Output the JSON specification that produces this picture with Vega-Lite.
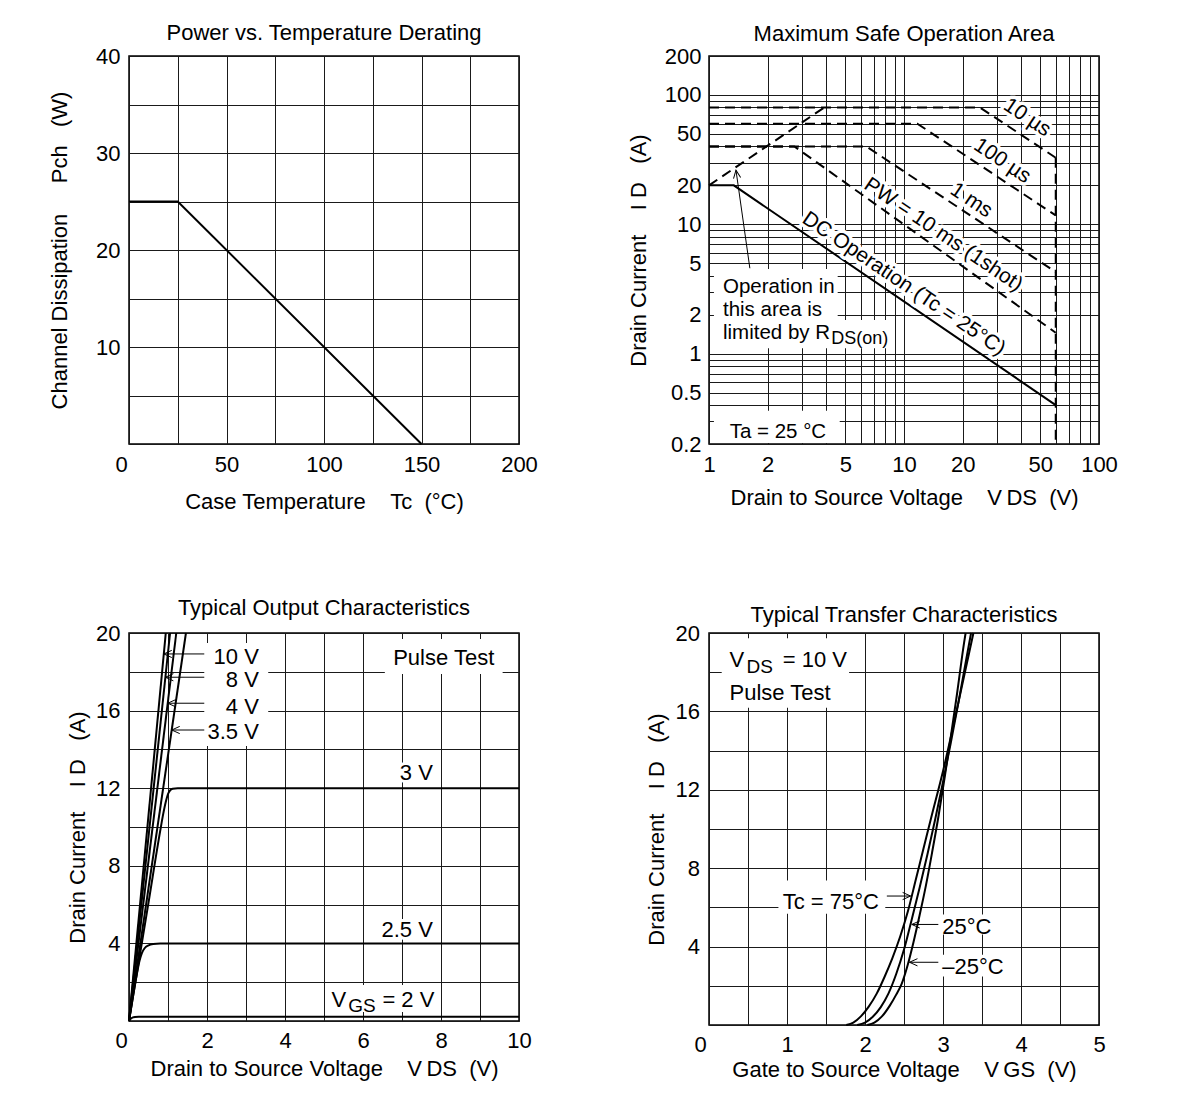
{
  "$schema": "https://vega.github.io/schema/vega-lite/v6.json",
  "background": "white",
  "padding": {"left": 47, "top": 21, "right": 5, "bottom": 5},
  "config": {
    "font": "Liberation Sans",
    "view": {"stroke": "#000", "strokeWidth": 1.5},
    "axis": {"grid": true, "gridColor": "#1a1a1a", "gridWidth": 1, "gridOpacity": 1, "domain": false, "ticks": false, "tickSize": 0,
      "labelFont": "Liberation Sans", "labelFontSize": 22, "labelColor": "#000", "labelFlush": false, "labelOverlap": false,
      "titleFont": "Liberation Sans", "titleFontSize": 22, "titleFontWeight": "normal", "titleColor": "#000"},
    "title": {"font": "Liberation Sans", "fontSize": 22, "fontWeight": "normal", "color": "#000", "anchor": "middle", "frame": "group"},
    "text": {"font": "Liberation Sans", "color": "#000"}
  },
  "datasets": {
    "p1": [{"x": 0, "y": 25}, {"x": 25, "y": 25}, {"x": 150, "y": 0}],
    "p2solid": [{"x": 1, "y": 20}, {"x": 1.34, "y": 20}, {"x": 60, "y": 0.4}],
    "p2dash": [
      {"s": "rds", "x": 1, "y": 20}, {"s": "rds", "x": 3.9, "y": 80},
      {"s": "us10", "x": 1, "y": 80}, {"s": "us10", "x": 24.5, "y": 80}, {"s": "us10", "x": 60, "y": 32.7},
      {"s": "us100", "x": 1, "y": 60}, {"s": "us100", "x": 11.7, "y": 60}, {"s": "us100", "x": 60, "y": 11.7},
      {"s": "ms1", "x": 1, "y": 40}, {"s": "ms1", "x": 6.4, "y": 40}, {"s": "ms1", "x": 60, "y": 4.27},
      {"s": "ms10", "x": 1, "y": 40}, {"s": "ms10", "x": 2.74, "y": 40}, {"s": "ms10", "x": 60, "y": 1.45},
      {"s": "vdss", "x": 60, "y": 32.7}, {"s": "vdss", "x": 60, "y": 0.2}
    ],
    "p2arrow": [{"x": 1.62, "y": 4.57}, {"x": 1.375, "y": 26.2}],
    "p2head": [{"x": 1.375, "y": 26.2}],
    "p2box": [
      {"x": 1.06, "x2": 4.57, "y": 1.82, "y2": 4.5},
      {"x": 1.06, "x2": 8.52, "y": 1.1, "y2": 1.82},
      {"x": 1.06, "x2": 4.68, "y": 0.2035, "y2": 0.362}
    ],
    "p2rot": [
      {"t": "10 µs", "x": 42.8, "y": 66.7},
      {"t": "100 µs", "x": 31.9, "y": 30.8},
      {"t": "1 ms", "x": 22.1, "y": 15.3},
      {"t": "PW = 10 ms (1shot)", "x": 15.9, "y": 8.28},
      {"t": "DC Operation (Tc = 25°C)", "x": 9.97, "y": 3.46}
    ],
    "p2txt": [
      {"t": "Operation in", "x": 1.179, "y": 2.92},
      {"t": "this area is", "x": 1.179, "y": 1.945},
      {"t": "limited by R", "x": 1.179, "y": 1.3},
      {"t": "Ta = 25 °C", "x": 1.276, "y": 0.223}
    ],
    "p2sub": [{"t": "DS(on)", "x": 4.24, "y": 1.186}],
    "p3curves": [
      {"s": "v10", "x": 0, "y": 0}, {"s": "v10", "x": 0.943, "y": 20},
      {"s": "v8", "x": 0, "y": 0}, {"s": "v8", "x": 1.053, "y": 20},
      {"s": "v4", "x": 0, "y": 0}, {"s": "v4", "x": 1.212, "y": 20},
      {"s": "v35", "x": 0, "y": 0}, {"s": "v35", "x": 1.46, "y": 20},
      {"s": "v3", "x": 0, "y": 0}, {"s": "v3", "x": 0.5, "y": 6.1}, {"s": "v3", "x": 0.8, "y": 9.8}, {"s": "v3", "x": 0.88, "y": 10.7}, {"s": "v3", "x": 0.95, "y": 11.35}, {"s": "v3", "x": 1.0, "y": 11.7}, {"s": "v3", "x": 1.05, "y": 11.88}, {"s": "v3", "x": 1.12, "y": 11.97}, {"s": "v3", "x": 1.25, "y": 12}, {"s": "v3", "x": 10, "y": 12},
      {"s": "v25", "x": 0, "y": 0}, {"s": "v25", "x": 0.1, "y": 1.25}, {"s": "v25", "x": 0.2, "y": 2.4}, {"s": "v25", "x": 0.27, "y": 3.1}, {"s": "v25", "x": 0.33, "y": 3.5}, {"s": "v25", "x": 0.4, "y": 3.75}, {"s": "v25", "x": 0.5, "y": 3.9}, {"s": "v25", "x": 0.62, "y": 3.97}, {"s": "v25", "x": 0.8, "y": 4}, {"s": "v25", "x": 10, "y": 4},
      {"s": "v2", "x": 0, "y": 0}, {"s": "v2", "x": 0.05, "y": 0.13}, {"s": "v2", "x": 0.1, "y": 0.19}, {"s": "v2", "x": 0.15, "y": 0.21}, {"s": "v2", "x": 0.25, "y": 0.22}, {"s": "v2", "x": 10, "y": 0.22}
    ],
    "p3arrows": [
      {"s": "a", "x": 0.892, "y": 18.92}, {"s": "a", "x": 1.93, "y": 18.92},
      {"s": "b", "x": 0.933, "y": 17.72}, {"s": "b", "x": 1.93, "y": 17.72},
      {"s": "c", "x": 0.993, "y": 16.38}, {"s": "c", "x": 1.93, "y": 16.38},
      {"s": "d", "x": 1.095, "y": 15.0}, {"s": "d", "x": 1.93, "y": 15.0}
    ],
    "p3heads": [{"x": 0.892, "y": 18.92}, {"x": 0.933, "y": 17.72}, {"x": 0.993, "y": 16.38}, {"x": 1.095, "y": 15.0}],
    "p3box": [
      {"x": 1.93, "x2": 3.57, "y": 14.18, "y2": 19.48},
      {"x": 6.56, "x2": 9.58, "y": 17.89, "y2": 19.69},
      {"x": 5.09, "x2": 7.92, "y": 0.46, "y2": 1.86}
    ],
    "p3right": [
      {"t": "10 V", "x": 3.33, "y": 18.4},
      {"t": "8 V", "x": 3.33, "y": 17.22},
      {"t": "4 V", "x": 3.33, "y": 15.82},
      {"t": "3.5 V", "x": 3.33, "y": 14.54},
      {"t": "3 V", "x": 7.79, "y": 12.42},
      {"t": "2.5 V", "x": 7.79, "y": 4.33},
      {"t": "= 2 V", "x": 7.83, "y": 0.72}
    ],
    "p3left": [{"t": "V", "x": 5.19, "y": 0.72}],
    "p3sub": [{"t": "GS", "x": 5.62, "y": 0.46}],
    "p3center": [{"t": "Pulse Test", "x": 8.07, "y": 18.35}],
    "p4curves": [
      {"s": "t75", "x": 1.76, "y": 0}, {"s": "t75", "x": 1.85, "y": 0.12}, {"s": "t75", "x": 1.95, "y": 0.45}, {"s": "t75", "x": 2.05, "y": 0.95}, {"s": "t75", "x": 2.15, "y": 1.6}, {"s": "t75", "x": 2.25, "y": 2.45}, {"s": "t75", "x": 2.35, "y": 3.4}, {"s": "t75", "x": 2.45, "y": 4.5}, {"s": "t75", "x": 2.55, "y": 5.8}, {"s": "t75", "x": 2.65, "y": 7.4}, {"s": "t75", "x": 2.75, "y": 9.0}, {"s": "t75", "x": 2.85, "y": 10.6}, {"s": "t75", "x": 3.0, "y": 12.95}, {"s": "t75", "x": 3.2, "y": 16.5}, {"s": "t75", "x": 3.39, "y": 20},
      {"s": "t25", "x": 1.9, "y": 0}, {"s": "t25", "x": 2.0, "y": 0.12}, {"s": "t25", "x": 2.1, "y": 0.42}, {"s": "t25", "x": 2.2, "y": 0.9}, {"s": "t25", "x": 2.3, "y": 1.6}, {"s": "t25", "x": 2.4, "y": 2.6}, {"s": "t25", "x": 2.5, "y": 3.85}, {"s": "t25", "x": 2.6, "y": 5.4}, {"s": "t25", "x": 2.7, "y": 7.0}, {"s": "t25", "x": 2.8, "y": 8.7}, {"s": "t25", "x": 2.9, "y": 10.5}, {"s": "t25", "x": 3.0, "y": 12.4}, {"s": "t25", "x": 3.1, "y": 14.4}, {"s": "t25", "x": 3.2, "y": 16.5}, {"s": "t25", "x": 3.3, "y": 18.7}, {"s": "t25", "x": 3.36, "y": 20},
      {"s": "tm25", "x": 2.03, "y": 0}, {"s": "tm25", "x": 2.12, "y": 0.12}, {"s": "tm25", "x": 2.22, "y": 0.45}, {"s": "tm25", "x": 2.32, "y": 1.0}, {"s": "tm25", "x": 2.4, "y": 1.55}, {"s": "tm25", "x": 2.47, "y": 2.1}, {"s": "tm25", "x": 2.55, "y": 3.1}, {"s": "tm25", "x": 2.62, "y": 4.2}, {"s": "tm25", "x": 2.7, "y": 5.6}, {"s": "tm25", "x": 2.78, "y": 7.1}, {"s": "tm25", "x": 2.86, "y": 8.8}, {"s": "tm25", "x": 2.94, "y": 10.6}, {"s": "tm25", "x": 3.02, "y": 12.6}, {"s": "tm25", "x": 3.1, "y": 14.7}, {"s": "tm25", "x": 3.18, "y": 16.9}, {"s": "tm25", "x": 3.27, "y": 19.5}, {"s": "tm25", "x": 3.29, "y": 20}
    ],
    "p4arrows": [
      {"s": "a", "x": 2.28, "y": 6.58}, {"s": "a", "x": 2.585, "y": 6.58},
      {"s": "b", "x": 2.6, "y": 5.13}, {"s": "b", "x": 2.94, "y": 5.13},
      {"s": "c", "x": 2.57, "y": 3.2}, {"s": "c", "x": 2.94, "y": 3.2}
    ],
    "p4headR": [{"x": 2.585, "y": 6.58}],
    "p4headL": [{"x": 2.6, "y": 5.13}, {"x": 2.57, "y": 3.2}],
    "p4box": [
      {"x": 0.163, "x2": 1.796, "y": 16.19, "y2": 19.73},
      {"x": 0.89, "x2": 2.26, "y": 5.68, "y2": 7.37},
      {"x": 2.94, "x2": 3.67, "y": 4.62, "y2": 5.64},
      {"x": 2.94, "x2": 3.84, "y": 2.48, "y2": 3.59}
    ],
    "p4left": [
      {"t": "V", "x": 0.263, "y": 18.29},
      {"t": "= 10 V", "x": 0.945, "y": 18.29},
      {"t": "Pulse Test", "x": 0.263, "y": 16.6},
      {"t": "Tc = 75°C", "x": 0.945, "y": 5.93},
      {"t": "25°C", "x": 2.99, "y": 4.65},
      {"t": "–25°C", "x": 2.99, "y": 2.6}
    ],
    "p4sub": [{"t": "DS", "x": 0.48, "y": 17.95}]
  },
  "columns": 2,
  "spacing": {"row": 189, "column": 190},
  "bounds": "flush",
  "concat": [
    {
      "width": 390, "height": 388,
      "title": {"text": "Power vs. Temperature Derating", "offset": 0},
      "data": {"name": "p1"},
      "mark": {"type": "line", "color": "#000", "strokeWidth": 2},
      "encoding": {
        "x": {"field": "x", "type": "quantitative", "scale": {"domain": [0, 200], "nice": false, "zero": false},
          "axis": {"values": [0, 25, 50, 75, 100, 125, 150, 175, 200], "labelExpr": "datum.value % 50 === 0 ? datum.label : ''",
            "labelOffset": {"condition": {"test": "datum.value === 0", "value": -8}, "value": 0},
            "labelPadding": 10, "title": "Case Temperature\u00a0\u00a0\u00a0\u00a0Tc\u00a0\u00a0(°C)", "titlePadding": 16.6}},
        "y": {"field": "y", "type": "quantitative", "scale": {"domain": [0, 40], "nice": false, "zero": false},
          "axis": {"values": [0, 5, 10, 15, 20, 25, 30, 35, 40], "labelExpr": "datum.value % 10 === 0 && datum.value > 0 ? datum.label : ''",
            "labelPadding": 9, "title": "Channel Dissipation\u00a0\u00a0\u00a0\u00a0\u00a0Pch\u00a0\u00a0\u00a0(W)", "titlePadding": 24}}
      }
    },
    {
      "width": 390, "height": 388,
      "title": {"text": "Maximum Safe Operation Area", "offset": -1},
      "encoding": {
        "x": {"field": "x", "type": "quantitative", "scale": {"type": "log", "domain": [1, 100], "nice": false},
          "axis": {"values": [1, 2, 3, 4, 5, 6, 7, 8, 9, 10, 20, 30, 40, 50, 60, 70, 80, 90, 100], "format": "~g",
            "labelExpr": "indexof([1, 2, 5, 10, 20, 50, 100], datum.value) >= 0 ? datum.label : ''",
            "labelPadding": 10.5, "title": "Drain to Source Voltage\u00a0\u00a0\u00a0\u00a0V\u2009DS\u00a0\u00a0(V)", "titlePadding": 11.5}},
        "y": {"field": "y", "type": "quantitative", "scale": {"type": "log", "domain": [0.2, 200], "nice": false},
          "axis": {"values": [0.2, 0.3, 0.4, 0.5, 0.6, 0.7, 0.8, 0.9, 1, 2, 3, 4, 5, 6, 7, 8, 9, 10, 20, 30, 40, 50, 60, 70, 80, 90, 100, 200], "format": "~g",
            "labelExpr": "indexof([0.2, 0.5, 1, 2, 5, 10, 20, 50, 100, 200], datum.value) >= 0 ? datum.label : ''",
            "labelPadding": 8, "title": "Drain Current\u00a0\u00a0\u00a0\u00a0I\u00a0D\u00a0\u00a0\u00a0(A)", "titlePadding": 13.5}}
      },
      "layer": [
        {"data": {"name": "p2box"}, "mark": {"type": "rect", "color": "white"}, "encoding": {"x2": {"field": "x2"}, "y2": {"field": "y2"}}},
        {"data": {"name": "p2solid"}, "mark": {"type": "line", "color": "#000", "strokeWidth": 2}},
        {"data": {"name": "p2dash"}, "mark": {"type": "line", "color": "#000", "strokeWidth": 2, "strokeDash": [10, 6]}, "encoding": {"detail": {"field": "s"}}},
        {"data": {"name": "p2arrow"}, "mark": {"type": "line", "color": "#000", "strokeWidth": 1}},
        {"data": {"name": "p2head"}, "mark": {"type": "point", "shape": "M-0.45,1L0,0L0.45,1", "size": 256, "filled": false, "stroke": "#000", "strokeWidth": 1, "opacity": 1, "angle": 352}},
        {"data": {"name": "p2rot"}, "mark": {"type": "text", "angle": 34, "fontSize": 21, "align": "center", "baseline": "middle", "color": "white", "stroke": "white", "strokeWidth": 7, "strokeJoin": "round"}, "encoding": {"text": {"field": "t"}}},
        {"data": {"name": "p2rot"}, "mark": {"type": "text", "angle": 34, "fontSize": 21, "align": "center", "baseline": "middle", "color": "#000"}, "encoding": {"text": {"field": "t"}}},
        {"data": {"name": "p2txt"}, "mark": {"type": "text", "fontSize": 20.5, "align": "left", "baseline": "alphabetic", "color": "#000"}, "encoding": {"text": {"field": "t"}}},
        {"data": {"name": "p2sub"}, "mark": {"type": "text", "fontSize": 18, "align": "left", "baseline": "alphabetic", "color": "#000"}, "encoding": {"text": {"field": "t"}}}
      ]
    },
    {
      "width": 390, "height": 388,
      "title": {"text": "Typical Output Characteristics", "offset": 2},
      "encoding": {
        "x": {"field": "x", "type": "quantitative", "scale": {"domain": [0, 10], "nice": false, "zero": false},
          "axis": {"values": [0, 1, 2, 3, 4, 5, 6, 7, 8, 9, 10], "labelExpr": "datum.value % 2 === 0 ? datum.label : ''",
            "labelOffset": {"condition": {"test": "datum.value === 0", "value": -8}, "value": 0},
            "labelPadding": 9.5, "title": "Drain to Source Voltage\u00a0\u00a0\u00a0\u00a0V\u2009DS\u00a0\u00a0(V)", "titlePadding": 7}},
        "y": {"field": "y", "type": "quantitative", "scale": {"domain": [0, 20], "nice": false, "zero": false},
          "axis": {"values": [0, 2, 4, 6, 8, 10, 12, 14, 16, 18, 20], "labelExpr": "datum.value % 4 === 0 && datum.value > 0 ? datum.label : ''",
            "labelPadding": 9, "title": "Drain Current\u00a0\u00a0\u00a0\u00a0I\u00a0D\u00a0\u00a0\u00a0(A)", "titlePadding": 6}}
      },
      "layer": [
        {"data": {"name": "p3box"}, "mark": {"type": "rect", "color": "white"}, "encoding": {"x2": {"field": "x2"}, "y2": {"field": "y2"}}},
        {"data": {"name": "p3curves"}, "mark": {"type": "line", "color": "#000", "strokeWidth": 2, "interpolate": "monotone"}, "encoding": {"detail": {"field": "s"}}},
        {"data": {"name": "p3arrows"}, "mark": {"type": "line", "color": "#000", "strokeWidth": 1}, "encoding": {"detail": {"field": "s"}}},
        {"data": {"name": "p3heads"}, "mark": {"type": "point", "shape": "M-0.45,1L0,0L0.45,1", "size": 256, "filled": false, "stroke": "#000", "strokeWidth": 1, "opacity": 1, "angle": 270}},
        {"data": {"name": "p3right"}, "mark": {"type": "text", "fontSize": 22, "align": "right", "baseline": "alphabetic", "color": "white", "stroke": "white", "strokeWidth": 6, "strokeJoin": "round"}, "encoding": {"text": {"field": "t"}}},
        {"data": {"name": "p3right"}, "mark": {"type": "text", "fontSize": 22, "align": "right", "baseline": "alphabetic", "color": "#000"}, "encoding": {"text": {"field": "t"}}},
        {"data": {"name": "p3left"}, "mark": {"type": "text", "fontSize": 22, "align": "left", "baseline": "alphabetic", "color": "#000"}, "encoding": {"text": {"field": "t"}}},
        {"data": {"name": "p3sub"}, "mark": {"type": "text", "fontSize": 19, "align": "left", "baseline": "alphabetic", "color": "#000"}, "encoding": {"text": {"field": "t"}}},
        {"data": {"name": "p3center"}, "mark": {"type": "text", "fontSize": 22, "align": "center", "baseline": "alphabetic", "color": "#000"}, "encoding": {"text": {"field": "t"}}}
      ]
    },
    {
      "width": 390, "height": 392,
      "title": {"text": "Typical Transfer Characteristics", "offset": -5},
      "encoding": {
        "x": {"field": "x", "type": "quantitative", "scale": {"domain": [0, 5], "nice": false, "zero": false},
          "axis": {"values": [0, 0.5, 1, 1.5, 2, 2.5, 3, 3.5, 4, 4.5, 5], "format": "~g", "labelExpr": "datum.value % 1 === 0 ? datum.label : ''",
            "labelOffset": {"condition": {"test": "datum.value === 0", "value": -9}, "value": 0},
            "labelPadding": 9.5, "title": "Gate to Source Voltage\u00a0\u00a0\u00a0\u00a0V\u2009GS\u00a0\u00a0(V)", "titlePadding": 3.5}},
        "y": {"field": "y", "type": "quantitative", "scale": {"domain": [0, 20], "nice": false, "zero": false},
          "axis": {"values": [0, 2, 4, 6, 8, 10, 12, 14, 16, 18, 20], "labelExpr": "datum.value % 4 === 0 && datum.value > 0 ? datum.label : ''",
            "labelPadding": 9.5, "title": "Drain Current\u00a0\u00a0\u00a0\u00a0I\u00a0D\u00a0\u00a0\u00a0(A)", "titlePadding": 6.5}}
      },
      "layer": [
        {"data": {"name": "p4box"}, "mark": {"type": "rect", "color": "white"}, "encoding": {"x2": {"field": "x2"}, "y2": {"field": "y2"}}},
        {"data": {"name": "p4curves"}, "mark": {"type": "line", "color": "#000", "strokeWidth": 2, "interpolate": "monotone"}, "encoding": {"detail": {"field": "s"}}},
        {"data": {"name": "p4arrows"}, "mark": {"type": "line", "color": "#000", "strokeWidth": 1}, "encoding": {"detail": {"field": "s"}}},
        {"data": {"name": "p4headR"}, "mark": {"type": "point", "shape": "M-0.45,1L0,0L0.45,1", "size": 256, "filled": false, "stroke": "#000", "strokeWidth": 1, "opacity": 1, "angle": 90}},
        {"data": {"name": "p4headL"}, "mark": {"type": "point", "shape": "M-0.45,1L0,0L0.45,1", "size": 256, "filled": false, "stroke": "#000", "strokeWidth": 1, "opacity": 1, "angle": 270}},
        {"data": {"name": "p4left"}, "mark": {"type": "text", "fontSize": 22, "align": "left", "baseline": "alphabetic", "color": "#000"}, "encoding": {"text": {"field": "t"}}},
        {"data": {"name": "p4sub"}, "mark": {"type": "text", "fontSize": 19, "align": "left", "baseline": "alphabetic", "color": "#000"}, "encoding": {"text": {"field": "t"}}}
      ]
    }
  ]
}
